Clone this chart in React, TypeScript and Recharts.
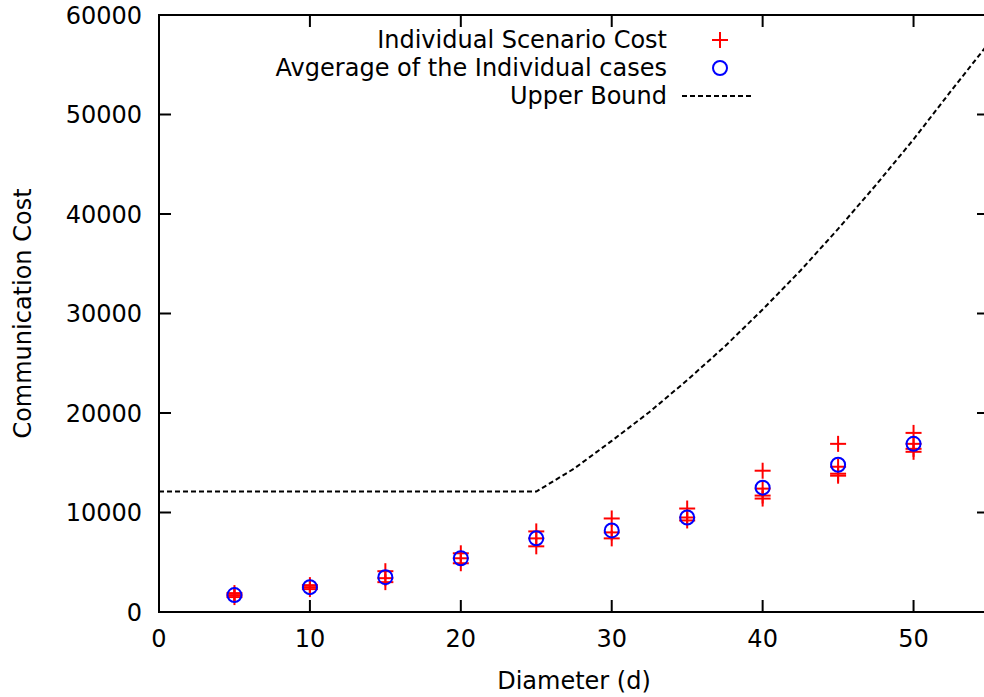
import React from "react";
import { ComposedChart, Line, ReferenceArea, ReferenceLine, Scatter, XAxis, YAxis } from "recharts";

// diameters and readings
const diameters = [5, 10, 15, 20, 25, 30, 35, 40, 45, 50];
const averageCost = [1700, 2500, 3500, 5400, 7400, 8200, 9500, 12500, 14800, 16900];
const scenarioCost = [
  [1500, 1700, 1900],
  [2300, 2500, 2700],
  [3000, 3400, 4100],
  [4900, 5400, 5900],
  [6600, 7400, 8100],
  [7400, 8000, 9400],
  [9200, 9500, 10400],
  [11400, 11700, 12400, 14200],
  [13700, 13900, 14600, 16900],
  [16100, 16400, 16900, 18000],
];
const boundD = [0, 25, 27.5, 30, 32.5, 35, 37.5, 40, 42.5, 45, 47.5, 50, 52.5, 55];
const boundCost = [12100, 12100, 14400, 17200, 20100, 23300, 26700, 30400, 34300, 38500, 42900, 47500, 52400, 57200];
const xTicks = [0, 10, 20, 30, 40, 50];
const yTicks = [0, 10000, 20000, 30000, 40000, 50000, 60000];
const xMax = 55;
const yMax = 60000;

const avgData = diameters.map((d, i) => ({ x: d, y: averageCost[i] }));
const scenarioData = diameters.flatMap((d, i) => scenarioCost[i].map((v) => ({ x: d, y: v })));
const boundData = boundD.map((d, i) => ({ x: d, y: boundCost[i] }));

// plot box in page pixels
const W = 1000;
const H = 697;
const LEFT = 159;
const TOP = 15;
const RIGHT = 989;
const BOTTOM = 612;
const TICK = 12;
// inward tick length expressed in axis units
const xTickLen = (TICK * xMax) / (RIGHT - LEFT);
const yTickLen = (TICK * yMax) / (BOTTOM - TOP);

const FONT = "DejaVu Sans";
const textStyle = { fill: "#000", fontSize: 24, fontFamily: FONT };
const axisLine = { stroke: "#000", strokeWidth: 2 };

const XTick = (p: any) => (
  <text x={p.x} y={p.y} dy="0.72em" textAnchor="middle" {...textStyle}>
    {p.payload.value}
  </text>
);

const YTick = (p: any) => (
  <text x={p.x} y={p.y} dy="0.36em" textAnchor="end" {...textStyle}>
    {p.payload.value}
  </text>
);

const Cross = (p: any) => (
  <g>
    <line x1={p.cx - 8} x2={p.cx + 8} y1={p.cy} y2={p.cy} stroke="#ff0000" strokeWidth={2} />
    <line x1={p.cx} x2={p.cx} y1={p.cy - 8} y2={p.cy + 8} stroke="#ff0000" strokeWidth={2} />
  </g>
);

const Ring = (p: any) => (
  <circle cx={p.cx} cy={p.cy} r={7} fill="none" stroke="#0000ff" strokeWidth={2} />
);

function Key() {
  return (
    <svg width={800} height={120} style={{ position: "absolute", left: 0, top: 0 }}>
      <text x={667} y={40} textAnchor="end" dominantBaseline="central" {...textStyle}>Individual Scenario Cost</text>
      <Cross cx={720} cy={40} />
      <text x={667} y={68} textAnchor="end" dominantBaseline="central" {...textStyle}>Avgerage of the Individual cases</text>
      <Ring cx={720} cy={68} />
      <text x={667} y={96} textAnchor="end" dominantBaseline="central" {...textStyle}>Upper Bound</text>
      <line x1={682} x2={753} y1={96} y2={96} stroke="#000" strokeWidth={2} strokeDasharray="5 3" />
    </svg>
  );
}

const tickSeg = { stroke: "#000", strokeWidth: 2, ifOverflow: "visible" as const };

export default function App() {
  return (
    <div style={{ position: "fixed", left: 0, top: 0, width: 984, height: H, overflow: "hidden", background: "#fff" }}>
      <ComposedChart width={W} height={H} margin={{ top: TOP, right: W - RIGHT, bottom: 0, left: 0 }}>
        <XAxis
          dataKey="x"
          type="number"
          domain={[0, xMax]}
          ticks={xTicks}
          allowDataOverflow
          height={H - BOTTOM}
          tickSize={0}
          tickMargin={18}
          axisLine={axisLine}
          tickLine={false}
          tick={XTick}
          label={{ value: "Diameter (d)", position: "center", dy: 26, style: textStyle }}
        />
        <YAxis
          dataKey="y"
          type="number"
          domain={[0, yMax]}
          ticks={yTicks}
          allowDataOverflow
          width={LEFT}
          tickSize={0}
          tickMargin={17}
          axisLine={axisLine}
          tickLine={false}
          tick={YTick}
          label={{ value: "Communication Cost", angle: -90, position: "center", dx: -57, style: textStyle }}
        />
        <ReferenceArea x1={0} x2={xMax} y1={0} y2={yMax} fill="none" stroke="#000" strokeWidth={2} />
        {xTicks.map((v) => (
          <ReferenceLine key={`b${v}`} segment={[{ x: v, y: 0 }, { x: v, y: yTickLen }]} {...tickSeg} />
        ))}
        {xTicks.map((v) => (
          <ReferenceLine key={`t${v}`} segment={[{ x: v, y: yMax }, { x: v, y: yMax - yTickLen }]} {...tickSeg} />
        ))}
        {yTicks.map((v) => (
          <ReferenceLine key={`l${v}`} segment={[{ x: 0, y: v }, { x: xTickLen, y: v }]} {...tickSeg} />
        ))}
        {yTicks.map((v) => (
          <ReferenceLine key={`r${v}`} segment={[{ x: xMax, y: v }, { x: xMax - xTickLen, y: v }]} {...tickSeg} />
        ))}
        <Line
          data={boundData}
          dataKey="y"
          type="linear"
          stroke="#000"
          strokeWidth={2}
          strokeDasharray="5 3"
          dot={false}
          activeDot={false}
          isAnimationActive={false}
        />
        <Scatter data={scenarioData} shape={Cross} isAnimationActive={false} />
        <Scatter data={avgData} shape={Ring} isAnimationActive={false} />
      </ComposedChart>
      <Key />
    </div>
  );
}
